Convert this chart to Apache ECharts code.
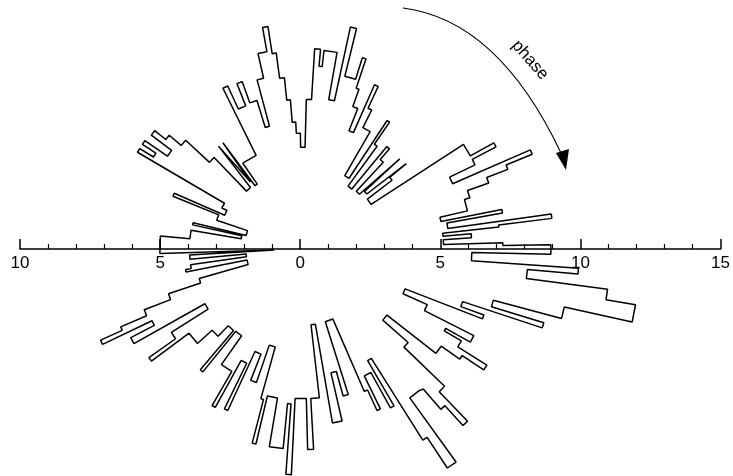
<!DOCTYPE html>
<html>
<head>
<meta charset="utf-8">
<script src="https://cdn.jsdelivr.net/npm/echarts@6/dist/echarts.min.js"></script>
<style>
  html, body { margin: 0; padding: 0; background: #fff; }
  #chart { width: 733px; height: 476px; }
</style>
</head>
<body>
<div id="chart"></div>
<script>
// phase bins (start angle, degrees) and the radius held over each bin, drawn as polar stairs
const binStart = [
  0, 1.0, 1.8, 3.8, 5.2, 6.4, 7.0, 8.0, 10.2, 11.2,
  13.0, 17.0, 19.5, 21.2, 22.4, 23.5, 26.0, 27.8, 29.0, 33.0,
  37.5, 39.4, 40.5, 42.8, 43.8, 47.0, 49.0, 50.5, 54.0, 55.5,
  56.6, 60.0, 63.5, 65.0, 66.3, 68.5, 70.5, 71.5, 72.6, 76.2,
  77.8, 80.0, 83.8, 84.8, 86.5, 88.5, 91.0, 93.0, 94.6, 96.0,
  97.6, 98.8, 100.2, 102.8, 105.0, 107.0, 109.8, 111.6, 114.6, 116.3,
  124.8, 126.8, 127.8, 129.2, 130.2, 134.0, 137.0, 139.5, 141.3, 143.0,
  145.5, 146.8, 148.3, 149.6, 153.0, 156.5, 157.8, 161.5, 166.5, 167.6,
  170.5, 174.8, 181.8, 183.0, 185.2, 188.0, 190.0, 191.2, 196.0, 198.5,
  201.0, 203.2, 204.3, 205.5, 207.3, 209.3, 212.5, 215.3, 216.6, 222.0,
  226.0, 229.8, 231.0, 235.0, 240.0, 241.2, 244.0, 245.2, 248.5, 251.0,
  254.5, 255.5, 256.6, 260.5, 264.5, 265.8, 267.2, 271.5, 273.2, 276.5,
  279.8, 283.0, 285.5, 287.5, 293.5, 294.8, 296.0, 299.0, 300.3, 302.2,
  303.5, 305.8, 309.5, 310.8, 312.3, 313.8, 316.0, 318.5, 322.0, 325.0,
  326.3, 327.8, 330.0, 331.0, 333.2, 336.0, 338.8, 340.0, 341.8, 343.0,
  345.0, 347.5, 350.5, 352.5, 354.8, 356.0, 358.8
];
const binRadius = [
  8.8, 7.1, 5.0, 6.0, 5.0, 7.0, 8.9, 5.2, 7.2, 5.0,
  6.0, 6.2, 7.0, 7.8, 8.8, 5.8, 6.8, 7.75, 6.8, 2.9,
  4.0, 4.76, 3.0, 4.7, 2.8, 4.2, 4.7, 2.75, 4.5, 5.45,
  3.0, 4.8, 5.5, 6.35, 4.5, 5.35, 6.0, 7.1, 6.3, 8.04,
  5.37, 7.07, 6.5, 7.1, 5.3, 3.6, 4.1, 4.5, 5.3, 6.1,
  7.0, 7.97, 7.1, 6.2, 4.5, 5.5, 6.3, 5.45, 6.35, 3.7,
  2.8, 4.7, 3.0, 4.7, 2.85, 4.5, 5.65, 6.2, 6.7, 5.8,
  6.77, 6.2, 6.77, 3.2, 3.0, 4.95, 3.2, 2.05, 3.98, 2.2,
  4.0, 5.05, 1.0, 4.0, 2.0, 4.0, 4.2, 2.0, 3.8, 5.0,
  6.0, 7.0, 7.84, 5.9, 6.84, 3.96, 5.5, 6.66, 5.0, 4.3,
  3.78, 5.6, 3.75, 5.0, 6.4, 4.5, 6.3, 4.0, 5.0, 3.6,
  5.5, 7.1, 5.35, 7.1, 5.5, 8.0, 5.3, 7.1, 5.3, 2.7,
  6.25, 4.5, 5.4, 2.7, 5.5, 6.3, 5.0, 6.43, 4.58, 8.0,
  9.3, 6.5, 6.55, 7.5, 8.45, 7.0, 5.0, 3.8, 6.0, 6.8,
  7.72, 6.5, 5.8, 6.8, 4.84, 3.9, 6.84, 5.97, 8.94, 7.0,
  9.5, 11.96, 10.9, 8.0, 9.8, 6.0, 8.8
];

const axisMin = -10;
const axisMax = 15;
const axisTicks = [-10, -5, 0, 5, 10, 15];

const chart = echarts.init(document.getElementById("chart"));

const gridLeft = 20;
const gridWidth = 706;
const axisY = 249;
const pxPerUnit = gridWidth / (axisMax - axisMin);
const centerX = gridLeft - axisMin * pxPerUnit;

// each bin: arc at its radius, then a radial jump to the next bin
const outline = [];
binStart.forEach((a, i) => {
  const end = i + 1 < binStart.length ? binStart[i + 1] : 360;
  outline.push([binRadius[i], a], [binRadius[i], end]);
});
outline.push([binRadius[0], 0]);

chart.setOption({
  animation: false,
  backgroundColor: "#fff",
  grid: { left: gridLeft, width: gridWidth, top: axisY - 40, height: 40 },
  xAxis: {
    type: "value",
    min: axisMin,
    max: axisMax,
    interval: 5,
    position: "bottom",
    axisLine: { lineStyle: { color: "#000", width: 1.5 } },
    axisTick: { inside: true, length: 10, lineStyle: { color: "#000", width: 1.5 } },
    minorTick: { show: true, splitNumber: 5, length: 5, lineStyle: { color: "#000", width: 1.2 } },
    splitLine: { show: false },
    axisLabel: {
      color: "#000",
      fontSize: 17,
      fontFamily: "Liberation Sans",
      margin: 6,
      formatter: (v) => (axisTicks.includes(v) ? String(Math.abs(v)) : ""),
    },
  },
  yAxis: { type: "value", show: false },
  polar: { center: [centerX, axisY], radius: axisMax * pxPerUnit },
  angleAxis: { type: "value", min: 0, max: 360, startAngle: 0, clockwise: false, show: false },
  radiusAxis: { type: "value", min: 0, max: axisMax, show: false },
  series: [
    {
      type: "line",
      coordinateSystem: "polar",
      data: outline,
      showSymbol: false,
      clip: false,
      lineStyle: { color: "#000", width: 1.5 },
    },
  ],
  graphic: [
    {
      type: "bezierCurve",
      shape: { x1: 403, y1: 8, cpx1: 498, cpy1: 20, x2: 561, y2: 153 },
      style: { stroke: "#000", lineWidth: 1.2, fill: null },
    },
    {
      type: "polygon",
      shape: { points: [[556, 153], [569, 149], [566, 170]] },
      style: { fill: "#000" },
    },
    {
      type: "text",
      x: 530,
      y: 60,
      rotation: -48.6 * Math.PI / 180,
      style: {
        text: "phase",
        fontSize: 17,
        fontFamily: "Liberation Sans",
        fill: "#000",
        align: "center",
        verticalAlign: "middle",
      },
    },
  ],
});
</script>
</body>
</html>
